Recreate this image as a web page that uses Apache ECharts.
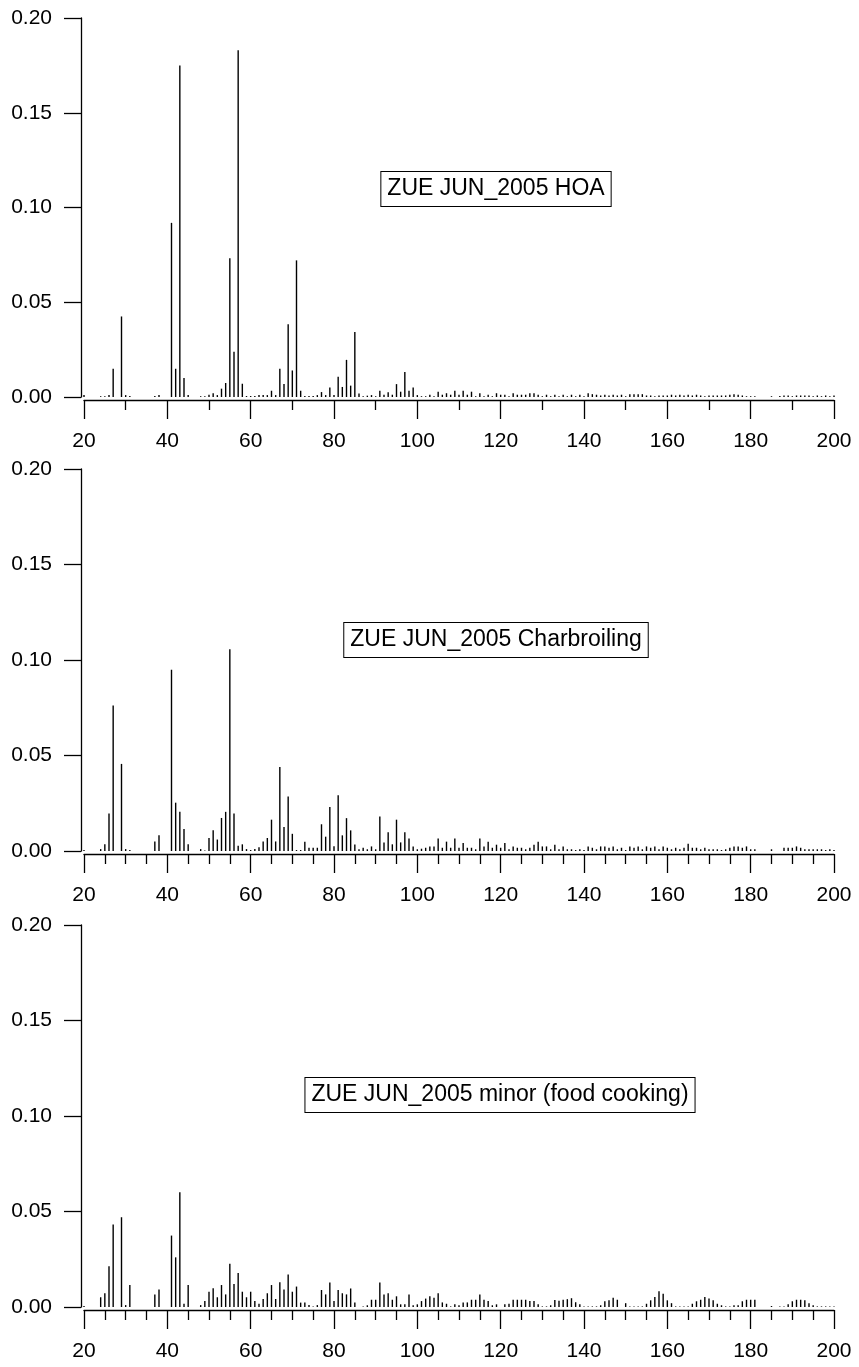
<!DOCTYPE html>
<html>
<head>
<meta charset="utf-8">
<script src="https://cdn.jsdelivr.net/npm/echarts@6/dist/echarts.min.js"></script>
<style>
html,body{margin:0;padding:0;background:#fff;}
#chart{width:859px;height:1367px;}
</style>
</head>
<body>
<div id="chart"></div>
<script>
// m/z values start at 20 and run to 200 (one entry per unit mass)
const mzStart = 20;
const mzEnd = 200;

const panelTitles = ["ZUE JUN_2005 HOA", "ZUE JUN_2005 Charbroiling", "ZUE JUN_2005 minor (food cooking)"];

const yTicks = [0, 0.05, 0.10, 0.15, 0.20];
const xTicks = [20, 40, 60, 80, 100, 120, 140, 160, 180, 200];

const hoa = [
  0.001,0,0,0,0.0004,0.0004,0.001,0.0149,0,0.0425,
  0.001,0.0005,0,0,0,0,0,0.0005,0.001,0,
  0,0.0919,0.0149,0.175,0.010,0.001,0,0,0.0004,0.0004,
  0.0012,0.002,0.001,0.0044,0.0074,0.0732,0.0239,0.183,0.007,0.0005,
  0.0005,0.0005,0.001,0.001,0.001,0.0033,0.001,0.0149,0.0068,0.0384,
  0.014,0.0721,0.0033,0.0005,0.0005,0.0005,0.001,0.0026,0.001,0.005,
  0.001,0.0107,0.0053,0.0196,0.006,0.0343,0.0018,0.0004,0.0007,0.001,
  0.0004,0.0033,0.0012,0.0025,0.0012,0.0068,0.0028,0.0132,0.0033,0.005,
  0.001,0.0004,0.0004,0.0012,0.0004,0.0028,0.0012,0.002,0.0012,0.0033,
  0.0012,0.0033,0.0012,0.0028,0.0004,0.002,0.0004,0.0012,0.0004,0.002,
  0.0012,0.0012,0.0004,0.002,0.0012,0.0012,0.0012,0.002,0.002,0.0012,
  0.0004,0.0012,0.0004,0.0012,0.0004,0.0012,0.0004,0.0012,0.0004,0.0012,
  0.0004,0.002,0.0015,0.0012,0.0008,0.0012,0.0008,0.0012,0.0008,0.0012,
  0.0004,0.0015,0.0015,0.0015,0.0015,0.0008,0.0008,0.0004,0.0008,0.0008,
  0.0008,0.0012,0.0008,0.0012,0.0008,0.0012,0.0008,0.0012,0.0008,0.0004,
  0.0008,0.0008,0.0008,0.0008,0.0008,0.0012,0.0015,0.0012,0.0008,0.0004,
  0.0004,0.0004,0,0,0,0.0004,0,0.0005,0.0008,0.0008,
  0.0004,0.0008,0.0008,0.0008,0.0008,0.0004,0.0008,0.0004,0.0008,0.0004,
  0.0008
];

const charbroiling = [
  0.0005,0,0,0,0.001,0.0035,0.0196,0.0762,0,0.0456,
  0.001,0.0005,0,0,0,0,0,0.005,0.0082,0,
  0,0.0949,0.0253,0.0205,0.0115,0.0035,0,0,0.001,0.0003,
  0.0068,0.0108,0.006,0.0173,0.0205,0.1056,0.0196,0.0028,0.0035,0.001,
  0.0005,0.001,0.002,0.005,0.0068,0.0164,0.005,0.044,0.0126,0.0285,
  0.009,0.0005,0.0005,0.0049,0.0017,0.0017,0.0017,0.014,0.0075,0.023,
  0.0025,0.0292,0.0082,0.0172,0.0108,0.0034,0.0009,0.0017,0.0009,0.0024,
  0.0009,0.018,0.0045,0.0098,0.0035,0.0164,0.0045,0.0098,0.0066,0.0024,
  0.0009,0.0012,0.0017,0.0024,0.0024,0.0066,0.0017,0.0049,0.0017,0.0066,
  0.0017,0.0042,0.0017,0.0017,0.0009,0.0066,0.0024,0.0049,0.0017,0.0033,
  0.0017,0.0042,0.0009,0.0024,0.0017,0.0017,0.0009,0.0017,0.0033,0.0049,
  0.0024,0.0024,0.0009,0.0033,0.0009,0.0024,0.0009,0.0009,0.0005,0.0009,
  0.0005,0.0024,0.0017,0.0009,0.0024,0.0024,0.0017,0.0024,0.0009,0.0017,
  0.0005,0.0024,0.0017,0.0024,0.0009,0.0024,0.0017,0.0024,0.0009,0.0024,
  0.0017,0.0009,0.0017,0.0009,0.0017,0.0038,0.0017,0.0017,0.0009,0.0017,
  0.0009,0.0009,0.0009,0.0005,0.0009,0.0017,0.0024,0.0024,0.0017,0.0024,
  0.0009,0.0009,0,0,0,0.0009,0,0,0.0017,0.0017,
  0.0017,0.0024,0.0017,0.0009,0.0009,0.0009,0.0009,0.0009,0.0005,0.0009,
  0.0005
];

const foodCooking = [
  0.0005,0,0,0,0.0051,0.0072,0.0213,0.0432,0,0.047,
  0.001,0.0115,0,0,0,0,0,0.0066,0.0091,0,
  0,0.0374,0.026,0.0601,0.0017,0.0115,0,0,0.001,0.0031,
  0.008,0.0098,0.0051,0.0115,0.0066,0.0227,0.0121,0.0178,0.008,0.0051,
  0.008,0.0031,0.0017,0.0042,0.0072,0.0115,0.0042,0.0129,0.0091,0.017,
  0.008,0.0107,0.0023,0.0023,0.001,0.0003,0.001,0.0089,0.0066,0.0128,
  0.0031,0.0089,0.0072,0.0066,0.0097,0.0024,0,0.0003,0.0009,0.0038,
  0.0038,0.0128,0.0066,0.0072,0.0038,0.0056,0.0014,0.0014,0.0066,0.0009,
  0.0014,0.0031,0.0044,0.0056,0.0049,0.0072,0.0024,0.0017,0.0003,0.0014,
  0.0009,0.0024,0.0024,0.0038,0.0038,0.0066,0.0038,0.0031,0.0009,0.0014,
  0,0.0014,0.0017,0.0038,0.0038,0.0038,0.0038,0.0031,0.0031,0.0014,
  0.0003,0.0003,0.0009,0.0036,0.0033,0.0038,0.0041,0.0046,0.0025,0.0015,
  0.0003,0.0003,0.0003,0.0003,0.0009,0.003,0.0035,0.0049,0.0038,0,
  0.002,0.0003,0.0003,0.0003,0.0003,0.0017,0.0035,0.0052,0.0082,0.007,
  0.0035,0.002,0.0003,0.0003,0.0003,0.0003,0.0017,0.003,0.0038,0.0052,
  0.0044,0.0035,0.0017,0.0009,0.0003,0.0003,0.0009,0.0009,0.003,0.0038,
  0.0038,0.0038,0,0,0,0.0005,0,0.0003,0.0003,0.0014,
  0.003,0.0038,0.0038,0.0035,0.002,0.0009,0.0003,0.0003,0.0003,0.0003,
  0.0003
];

const panels = [hoa, charbroiling, foodCooking];

// ---------- layout (not data) ----------
const FONT = '"Liberation Sans", Arial, sans-serif';
const gridBoxes = [
  {left: 84, top: 18, width: 750, height: 379},
  {left: 84, top: 469, width: 750, height: 382},
  {left: 84, top: 925, width: 750, height: 382}
];
const minorSplits = [2, 4, 4];
const boxCenters = [[496, 189], [496, 640], [500, 1095]];

function toPairs(arr) {
  const out = [];
  for (let i = 0; i < arr.length; i++) {
    if (arr[i] > 0) out.push([mzStart + i, arr[i]]);
  }
  return out;
}

const grids = [], xAxes = [], yAxes = [], series = [], graphics = [];
panels.forEach((vals, k) => {
  grids.push(Object.assign({containLabel: false}, gridBoxes[k]));
  xAxes.push({
    type: 'value', gridIndex: k, min: mzStart, max: mzEnd, interval: xTicks[1] - xTicks[0],
    offset: 3,
    axisLine: {show: true, onZero: false, lineStyle: {color: '#000', width: 1.3}},
    axisTick: {show: true, inside: false, length: 19, lineStyle: {color: '#000', width: 1.3}},
    minorTick: {show: true, splitNumber: minorSplits[k], length: 10, lineStyle: {color: '#000', width: 1.3}},
    splitLine: {show: false}, minorSplitLine: {show: false},
    axisLabel: {color: '#000', fontSize: 21, fontFamily: FONT, margin: 31,
      formatter: v => xTicks.indexOf(v) >= 0 ? String(v) : ''}
  });
  yAxes.push({
    type: 'value', gridIndex: k, min: yTicks[0], max: yTicks[yTicks.length - 1], interval: yTicks[1] - yTicks[0],
    offset: 3,
    axisLine: {show: true, onZero: false, lineStyle: {color: '#000', width: 1.3}},
    axisTick: {show: true, inside: false, length: 17, lineStyle: {color: '#000', width: 1.3}},
    splitLine: {show: false},
    axisLabel: {color: '#000', fontSize: 21, fontFamily: FONT, margin: 29,
      formatter: v => v.toFixed(2)}
  });
  series.push({
    type: 'bar', xAxisIndex: k, yAxisIndex: k, data: toPairs(vals),
    barWidth: 1.4, itemStyle: {color: '#000'}, silent: true, animation: false
  });
  graphics.push({
    type: 'text', x: boxCenters[k][0], y: boxCenters[k][1], z: 100,
    style: {
      text: panelTitles[k], font: '23px ' + FONT, fill: '#000',
      align: 'center', verticalAlign: 'middle',
      padding: [6, 6, 5, 6], borderColor: '#000', borderWidth: 1, backgroundColor: '#fff'
    }
  });
});

const chart = echarts.init(document.getElementById('chart'), null, {renderer: 'canvas'});
chart.setOption({
  animation: false,
  backgroundColor: '#fff',
  grid: grids,
  xAxis: xAxes,
  yAxis: yAxes,
  series: series,
  graphic: graphics
});
</script>
</body>
</html>
